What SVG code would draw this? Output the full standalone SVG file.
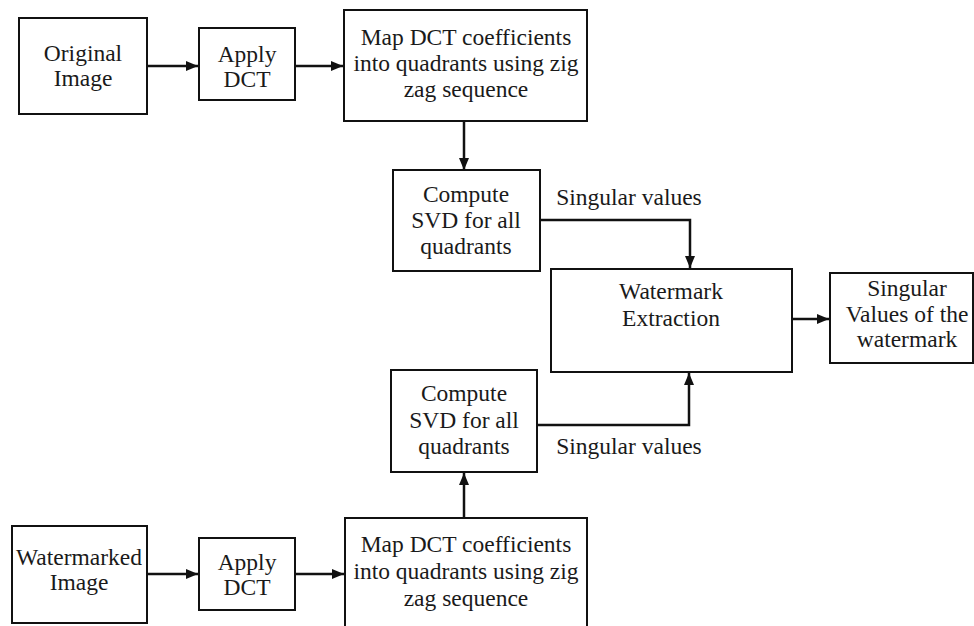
<svg xmlns="http://www.w3.org/2000/svg" width="974" height="626" viewBox="0 0 974 626">
<defs>
<style>
.box{fill:#fff;stroke:#111;stroke-width:2}
.t{font-family:'Liberation Serif','DejaVu Serif',serif;font-size:23.5px;fill:#1a1a1a;text-anchor:middle}
.c{fill:none;stroke:#111;stroke-width:2.5}
</style>
<marker id="ah" viewBox="0 0 12 10" refX="12" refY="5" markerWidth="12" markerHeight="10" markerUnits="userSpaceOnUse" orient="auto">
<path d="M0,0 L12,5 L0,10 Z" fill="#111"/>
</marker>
</defs>
<rect width="974" height="626" fill="#fff"/>
<g id="connectors">
<path class="c" d="M147,66 H198" marker-end="url(#ah)"/>
<path class="c" d="M295,66 H343" marker-end="url(#ah)"/>
<path class="c" d="M464,121 V170" marker-end="url(#ah)"/>
<path class="c" d="M540,220 H690 V268" marker-end="url(#ah)"/>
<path class="c" d="M792,319 H829" marker-end="url(#ah)"/>
<path class="c" d="M537,425 H689 V373" marker-end="url(#ah)"/>
<path class="c" d="M464,518 V473" marker-end="url(#ah)"/>
<path class="c" d="M147,574 H198" marker-end="url(#ah)"/>
<path class="c" d="M295,574 H344" marker-end="url(#ah)"/>
</g>
<g id="original">
<rect class="box" x="19" y="18" width="128" height="96"/>
<text class="t" x="83" y="61">Original</text>
<text class="t" x="83" y="86">Image</text>
</g>
<g id="applydct1">
<rect class="box" x="199" y="28" width="96" height="72"/>
<text class="t" x="247" y="62">Apply</text>
<text class="t" x="247" y="87">DCT</text>
</g>
<g id="map1">
<rect class="box" x="344" y="10" width="243" height="111"/>
<text class="t" x="466" y="45">Map DCT coefficients</text>
<text class="t" x="466" y="71">into quadrants using zig</text>
<text class="t" x="466" y="97">zag sequence</text>
</g>
<g id="svd1">
<rect class="box" x="393" y="170" width="147" height="101"/>
<text class="t" x="466" y="202">Compute</text>
<text class="t" x="466" y="228">SVD for all</text>
<text class="t" x="466" y="254">quadrants</text>
</g>
<text class="t" x="629" y="205">Singular values</text>
<g id="extraction">
<rect class="box" x="551" y="269" width="241" height="103"/>
<text class="t" x="671" y="299">Watermark</text>
<text class="t" x="671" y="326">Extraction</text>
</g>
<g id="output">
<rect class="box" x="830" y="273" width="143" height="90"/>
<text class="t" x="907" y="296">Singular</text>
<text class="t" x="907" y="322">Values of the</text>
<text class="t" x="907" y="347">watermark</text>
</g>
<g id="svd2">
<rect class="box" x="391" y="370" width="146" height="102"/>
<text class="t" x="464" y="401">Compute</text>
<text class="t" x="464" y="428">SVD for all</text>
<text class="t" x="464" y="454">quadrants</text>
</g>
<text class="t" x="629" y="454">Singular values</text>
<g id="watermarked">
<rect class="box" x="12" y="526" width="135" height="97"/>
<text class="t" x="79" y="565">Watermarked</text>
<text class="t" x="79" y="590">Image</text>
</g>
<g id="applydct2">
<rect class="box" x="199" y="538" width="96" height="72"/>
<text class="t" x="247" y="570">Apply</text>
<text class="t" x="247" y="595">DCT</text>
</g>
<g id="map2">
<rect class="box" x="345" y="518" width="242" height="120"/>
<text class="t" x="466" y="552">Map DCT coefficients</text>
<text class="t" x="466" y="579">into quadrants using zig</text>
<text class="t" x="466" y="606">zag sequence</text>
</g>
</svg>
